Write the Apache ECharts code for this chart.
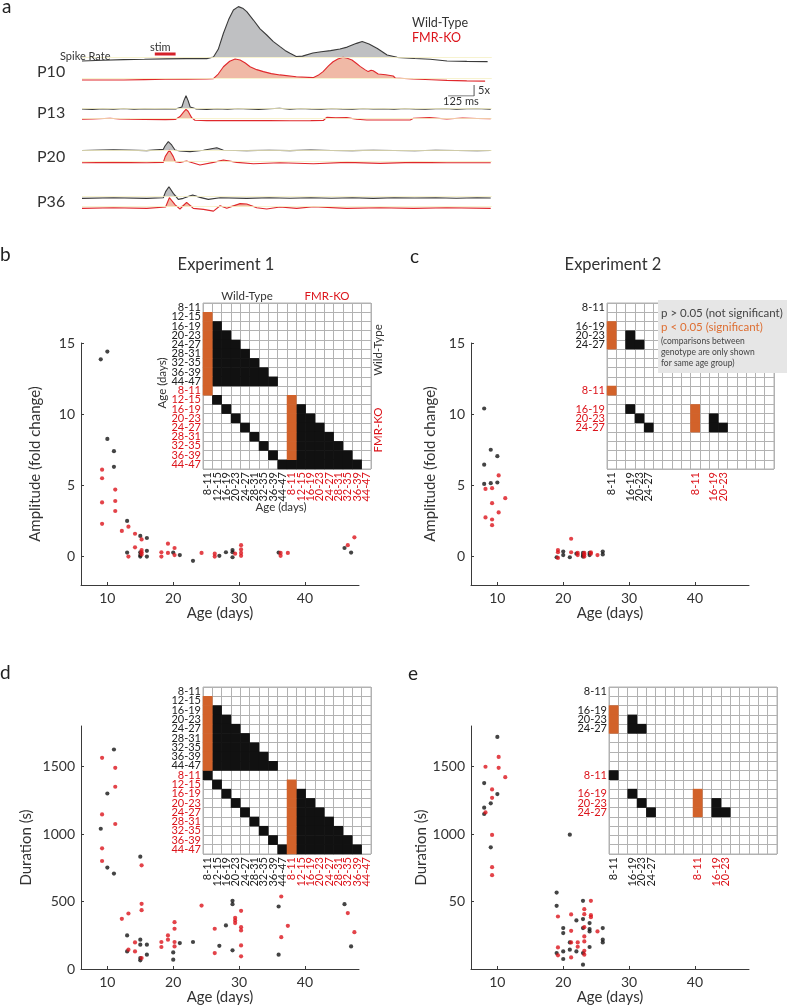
<!DOCTYPE html>
<html><head><meta charset="utf-8">
<script src="https://cdn.jsdelivr.net/npm/echarts@6/dist/echarts.min.js"></script>
<style>html,body{margin:0;padding:0;background:#fff}#c{width:787px;height:1007px}</style>
</head><body><div id="c"></div>
<script>
// ---------- Panel a: spike-rate traces, [time ms, fold change relative to baseline] ----------
const traceP10WT = [[0,-1.8],[100,-1.5],[200,-1.2],[300,-1.05],[400,-0.85],[500,-0.75],[600,-0.75],[632,0],[655,3.5],[680,10.8],[705,17],[728,21.4],[752,22.9],[775,22],[792,20.6],[824,16.8],[856,12.8],[888,10],[920,7],[952,4.7],[976,3],[1000,1.7],[1030,0.2],[1060,0.4],[1110,1.8],[1150,2.4],[1195,2.9],[1240,3.6],[1275,4.5],[1320,6.2],[1347,7.0],[1380,5.9],[1420,3.9],[1467,0.9],[1515,-0.15],[1600,-0.7],[1674,-1.05],[1755,-1.8],[1850,-2.0],[1950,-2.1]];
const traceP10KO = [[0,-0.9],[100,-0.9],[200,-0.9],[300,-0.75],[400,-0.6],[500,-0.5],[600,-0.45],[632,-0.3],[655,1.8],[680,5.1],[710,7.6],[736,8.6],[760,8.2],[785,6.8],[808,5.1],[840,3.8],[872,2.9],[910,2.0],[952,1.4],[1030,0.6],[1111,0.15],[1135,1.2],[1159,2.9],[1185,5.5],[1207,7.4],[1230,8.6],[1255,9.4],[1275,9.0],[1298,8.2],[1320,6.6],[1337,5.3],[1360,3.8],[1376,2.9],[1390,3.5],[1400,3.3],[1424,1.8],[1460,1.5],[1496,0.9],[1506,0],[1592,-0.45],[1680,-0.8],[1755,-1.1],[1850,-1.3],[1938,-1.4]];
const traceP13WT = [[0,-0.3],[50,-0.5],[100,-0.2],[150,-0.4],[200,-0.1],[250,-0.4],[300,-0.2],[350,-0.3],[400,-0.2],[450,-0.3],[480,0.6],[490,3.5],[500,5.7],[510,3.5],[520,0.6],[550,-0.3],[600,-0.5],[650,-0.2],[700,-0.4],[750,-0.1],[800,-0.3],[850,-0.5],[900,-0.2],[950,0],[1000,-0.4],[1050,-0.1],[1100,-0.3],[1150,-0.4],[1200,-0.1],[1250,-0.3],[1300,-0.4],[1350,-0.1],[1400,-0.3],[1450,-0.2],[1500,-0.4],[1550,-0.1],[1600,-0.3],[1650,-0.4],[1700,-0.2],[1750,-0.1],[1800,-0.4],[1850,-0.2],[1900,-0.1],[1965,-0.4]];
const traceP13KO = [[0,-0.45],[50,-0.3],[135,0],[180,-0.3],[231,-0.45],[300,-0.55],[400,-0.6],[450,-0.5],[471,0.8],[490,3],[500,4.1],[510,3.2],[527,0.3],[543,-0.9],[600,-1.05],[700,-1.05],[800,-1.05],[900,-1.05],[1000,-1.1],[1100,-1.05],[1160,-1.0],[1177,0.45],[1220,0.2],[1273,0.3],[1321,-0.45],[1369,-0.75],[1450,-0.75],[1578,-0.75],[1594,0],[1670,0.3],[1754,-0.3],[1830,0.15],[1900,-0.1],[1965,-0.15]];
const traceP20WT = [[0,-0.2],[151,0.1],[311,-0.3],[391,0.3],[399,1.8],[415,3.8],[431,2.3],[447,0],[471,-0.45],[519,-0.75],[584,-0.1],[648,1.05],[680,-0.1],[792,-0.3],[900,-0.1],[1000,-0.3],[1100,0],[1200,-0.2],[1300,-0.3],[1400,-0.1],[1500,-0.2],[1600,-0.35],[1700,-0.1],[1800,-0.2],[1900,-0.3],[1965,-0.2]];
const traceP20KO = [[0,-0.45],[151,-0.3],[311,-0.45],[391,-0.3],[400,2.3],[420,5.3],[439,2.3],[449,0],[471,-0.3],[503,0.3],[567,-1.5],[632,-0.3],[680,0.75],[744,-0.3],[824,-0.9],[952,-0.45],[1113,-0.9],[1273,-0.3],[1433,-0.75],[1594,-0.3],[1754,-0.45],[1965,-0.45]];
const traceP36WT = [[0,-0.75],[151,-0.45],[311,-0.75],[391,-0.45],[402,2.3],[418,4.5],[439,1.5],[463,-1.2],[487,-0.75],[532,0.75],[567,-0.3],[607,-1.2],[664,-0.45],[792,-0.75],[900,-0.5],[1000,-0.7],[1100,-0.45],[1200,-0.7],[1300,-0.5],[1400,-0.75],[1500,-0.5],[1600,-0.6],[1700,-0.45],[1800,-0.7],[1900,-0.5],[1965,-0.6]];
const traceP36KO = [[0,-0.75],[151,-0.45],[311,-0.75],[402,-0.15],[420,4.1],[449,0.75],[471,-1.05],[503,2.0],[535,-0.75],[584,-1.2],[632,-2.0],[664,0.45],[696,-0.75],[760,1.4],[792,1.2],[840,-0.45],[888,-1.05],[952,-0.15],[1032,-0.75],[1113,0],[1273,-0.75],[1433,-0.45],[1594,-0.75],[1754,-0.45],[1965,-0.75]];
const stimWindowMs = [350, 450];
const scaleBarMs = 125, scaleBarFold = 5;
const traceAges = ['P10','P13','P20','P36'];

// ---------- Panels b-e: scatter [age days, value] ----------
const exp1AmpWT = [[9,13.85],[10,14.4],[10,8.26],[11,7.4],[11,6.3],[13,2.5],[13,0.28],[15,1.45],[15,0.3],[15,0.1],[15,0],[16,1.3],[16,0.4],[16,0],[20,0.28],[21,0.1],[23,-0.3],[27,0.05],[28,0.3],[29,0.45],[29,0.3],[29,-0.05],[36,0.28],[46,0.6],[47,0.28]];
const exp1AmpKO = [[9.2,6.1],[9.2,5.5],[9.2,3.8],[9.2,2.3],[11.2,4.7],[11.2,3.9],[11.2,3.2],[12.2,1.8],[13.2,2.1],[13.2,0],[14.2,1.6],[14.2,0.65],[15.2,1.2],[15.2,0.45],[15.2,0.3],[15.2,0.15],[18.2,0.3],[18.2,0],[19.2,0.9],[19.2,0.25],[20.2,0.6],[20.2,0.1],[24.3,0.25],[26.3,0.2],[26.3,0],[29.4,0.2],[30.3,0.8],[30.3,0.5],[30.3,0.25],[30.3,0.05],[36.3,0.25],[36.3,0.05],[37.4,0.25],[46.5,0.8],[47.5,1.35]];
const exp2AmpWT = [[8,10.4],[8,6.45],[8,5.1],[9,7.5],[9,5.15],[10,7.05],[10,5.2],[19,-0.05],[20,0.35],[20,0.1],[21,-0.05],[22,0.2],[23,0.25],[23,0],[23,0.1],[24,0.1],[24,0.25],[26,0.35],[26,0.15]];
const exp2AmpKO = [[8.2,4.75],[8.2,2.75],[9.2,4.8],[9.2,3.75],[9.2,2.6],[9.2,2.2],[10.2,5.7],[10.2,3.1],[11.2,4.1],[19.2,0.45],[19.2,0.3],[19.2,-0.1],[21.2,1.25],[21.2,0.3],[22.2,0.1],[22.2,0.25],[23.2,0.25],[23.2,0],[23.2,0.15],[24.2,0.3],[24.2,0.2],[25.2,0.1]];
const exp1DurWT = [[11,1626],[10,1300],[9,1039],[10,751],[11,707],[15,832],[13,249],[13,130],[15,217],[15,180],[15,81],[15,64],[16,180],[16,106],[20,123],[20,69],[21,192],[23,200],[27,172],[28,323],[29,505],[29,480],[29,138],[36,463],[36,106],[46,480],[47,167]];
const exp1DurKO = [[9.2,1564],[9.2,1145],[9.2,894],[9.2,800],[11.2,1490],[11.2,1350],[11.2,1074],[15.2,768],[15.2,483],[15.2,436],[15.2,81],[12.2,372],[13.2,411],[13.2,143],[14.2,197],[14.2,130],[18.2,200],[18.2,163],[19.2,249],[19.2,217],[20.2,347],[20.2,298],[20.2,200],[20.2,167],[24.3,470],[26.3,298],[26.3,118],[29.4,379],[29.4,360],[29.4,340],[30.3,431],[30.3,310],[30.3,286],[30.3,175],[30.3,94],[36.4,537],[36.4,236],[37.4,320],[46.5,414],[47.5,273]];
const exp2DurWT = [[10,1719],[8,1377],[10,1296],[9,1227],[8,1195],[8,1148],[9,901],[21,995],[19,566],[19,468],[20,303],[20,266],[21,197],[22,360],[23,505],[23,370],[23,303],[24,340],[24,296],[24,278],[26,303],[26,217],[26,197],[19,118],[20,130],[20,74],[21,143],[22,130],[23,118],[23,32],[24,163]];
const exp2DurKO = [[8.2,1498],[8.2,1160],[9.2,1330],[9.2,1268],[9.2,993],[9.2,754],[9.2,695],[10.2,1571],[10.2,1490],[11.2,1421],[19.2,389],[19.2,160],[19.2,101],[21.2,404],[21.2,283],[21.2,197],[21.2,86],[22.2,197],[22.2,165],[23.2,443],[23.2,406],[23.2,310],[23.2,241],[23.2,204],[23.2,135],[23.2,106],[24.2,505],[24.2,399],[24.2,384],[25.2,278]];

// tick labels
const ageTicks = [10,20,30,40];
const ampTicks = [0,5,10,15];
const durTicksD = [0,500,1000,1500];
const durTickLabelsD = ['0','500','1000','1500'];
const durTicksE = [500,1000,1500];
const durTickLabelsE = ['50','1000','1500'];

// ---------- Inset significance matrices: '.' empty, 'X' black cell, 'O' orange cell ----------
const ageGroups = ['8-11','12-15','16-19','20-23','24-27','28-31','32-35','36-39','44-47'];
const exp2RowGroups = ['8-11','','16-19','20-23','24-27','','','',''];
const exp2ColGroupsWT = ['8-11','','16-19','20-23','24-27','','','',''];
const exp2ColGroupsKO = ['8-11','','16-19','20-23','','','','',''];
const sigExp1Amp = [
'..................','O.................','OX................','OXX...............','OXXX..............','OXXXX.............','OXXXXX............','OXXXXXX...........','OXXXXXXX..........',
'O.................','.X.......O........','..X......OX.......','...X.....OXX......','....X....OXXX.....','.....X...OXXXX....','......X..OXXXXX...','.......X.OXXXXXX..','........XXXXXXXXX.'];
const sigExp1Dur = [
'..................','O.................','OX................','OXX...............','OXXX..............','OXXXX.............','OXXXXX............','OXXXXXX...........','OXXXXXXX..........',
'X.................','.X.......O........','..X......OX.......','...X.....OXX......','....X....OXXX.....','.....X...OXXXX....','......X..OXXXXX...','.......X.OXXXXXX..','........XOXXXXXXX.'];
const sigExp2Amp = [
'..................','..................','O.................','O.X...............','O.XX..............','..................','..................','..................','..................',
'O.................','..................','..X......O........','...X.....O.X......','....X....O.XX.....','..................','..................','..................','..................'];
const sigExp2Dur = [
'..................','..................','O.................','O.X...............','O.XX..............','..................','..................','..................','..................',
'X.................','..................','..X......O........','...X.....O.X......','....X....O.XX.....','..................','..................','..................','..................'];

// ---------- styling ----------
const FONT = 'Lato, "Noto Sans", sans-serif';
const RED = '#dc141b', ORANGE = '#d2622a';
const WT_LINE = '#3a3a3a', KO_LINE = '#e0282c', WT_FILL = '#bfc0c2', KO_FILL = '#f0b9a6', BASE = '#f5f0c4';
const PX_PER_MS = 26/125, PX_PER_UNIT = 11/5;
const T_MAX = 1970;

const grid = [], xAxis = [], yAxis = [], series = [], graphic = [];

// trace grids
const traceDefs = [
  {data: traceP10WT, base: 57,    min: -3, max: 24, wt: true},
  {data: traceP10KO, base: 78,    min: -3, max: 10, wt: false},
  {data: traceP13WT, base: 108.3, min: -2, max: 7,  wt: true},
  {data: traceP13KO, base: 118.3, min: -2, max: 5,  wt: false},
  {data: traceP20WT, base: 150,   min: -2, max: 5,  wt: true},
  {data: traceP20KO, base: 161.7, min: -2, max: 6,  wt: false},
  {data: traceP36WT, base: 196.7, min: -2, max: 5,  wt: true},
  {data: traceP36KO, base: 206.7, min: -3, max: 5,  wt: false}
];
traceDefs.forEach(function (d, i) {
  grid.push({left: 82, width: T_MAX * PX_PER_MS, top: d.base - d.max * PX_PER_UNIT, height: (d.max - d.min) * PX_PER_UNIT});
  xAxis.push({gridIndex: i, type: 'value', min: 0, max: T_MAX, show: false});
  yAxis.push({gridIndex: i, type: 'value', min: d.min, max: d.max, show: false});
  series.push({type: 'line', xAxisIndex: i, yAxisIndex: i, data: d.data.map(p => [p[0], Math.max(p[1], 0)]),
    showSymbol: false, silent: true, lineStyle: {width: 0}, areaStyle: {color: d.wt ? WT_FILL : KO_FILL, opacity: 1, origin: 0},
    markLine: {silent: true, symbol: 'none', label: {show: false}, lineStyle: {color: BASE, width: 0.8, type: 'solid'}, data: [{yAxis: 0}]}});
  series.push({type: 'line', xAxisIndex: i, yAxisIndex: i, data: d.data, showSymbol: false, silent: true,
    lineStyle: {color: d.wt ? WT_LINE : KO_LINE, width: 1.1}});
});
// stimulus bar in P10 WT grid
series.push({type: 'line', xAxisIndex: 0, yAxisIndex: 0, data: stimWindowMs.map(t => [t, 1.4]), showSymbol: false, silent: true,
  lineStyle: {color: '#d5222a', width: 3, cap: 'butt'}});
// scale bar grid
let gi = grid.length;
grid.push({left: 82, width: T_MAX * PX_PER_MS, top: 85, height: scaleBarFold * PX_PER_UNIT});
xAxis.push({gridIndex: gi, type: 'value', min: 0, max: T_MAX, show: false});
yAxis.push({gridIndex: gi, type: 'value', min: 0, max: scaleBarFold, show: false});
series.push({type: 'line', xAxisIndex: gi, yAxisIndex: gi, showSymbol: false, silent: true,
  data: [[1885 - scaleBarMs, 0], [1885, 0], [1885, scaleBarFold]], lineStyle: {color: '#555', width: 1}});

// scatter grids
function scatterPanel(opt) {
  const i = grid.length;
  grid.push({left: opt.left, top: opt.top, width: 278, height: opt.height});
  xAxis.push({gridIndex: i, type: 'value', min: 6, max: 48.2,
    axisLine: {show: true, onZero: false, lineStyle: {color: '#3a3a3a', width: 1}},
    axisTick: {show: true, inside: true, length: 3, customValues: ageTicks, lineStyle: {color: '#3a3a3a'}},
    axisLabel: {customValues: ageTicks, fontSize: 14, color: '#333', margin: 6, fontFamily: FONT},
    splitLine: {show: false}, name: 'Age (days)', nameLocation: 'middle', nameGap: 21,
    nameTextStyle: {fontSize: 15, color: '#333', fontFamily: FONT, verticalAlign: 'top'}});
  yAxis.push({gridIndex: i, type: 'value', min: opt.ymin, max: opt.ymax,
    axisLine: {show: true, onZero: false, lineStyle: {color: '#3a3a3a', width: 1}},
    axisTick: {show: true, inside: true, length: 3, customValues: opt.yticks, lineStyle: {color: '#3a3a3a'}},
    axisLabel: {customValues: opt.yticks, fontSize: 14, color: '#333', margin: 6, fontFamily: FONT,
      formatter: function (v) { const k = opt.yticks.indexOf(v); return k >= 0 ? opt.ylabels[k] : ''; }},
    splitLine: {show: false}, name: opt.yname, nameLocation: 'middle', nameGap: opt.ynameGap,
    nameTextStyle: {fontSize: 15, color: '#333', fontFamily: FONT}});
  series.push({type: 'scatter', xAxisIndex: i, yAxisIndex: i, data: opt.wt, symbolSize: 4.2, silent: true, itemStyle: {color: '#151515'}});
  series.push({type: 'scatter', xAxisIndex: i, yAxisIndex: i, data: opt.ko, symbolSize: 4.2, silent: true, itemStyle: {color: RED}});
}
const ampLabels = ampTicks.map(String);
scatterPanel({left: 81, top: 343, height: 242, ymin: -2, ymax: 15, yticks: ampTicks, ylabels: ampLabels, yname: 'Amplitude (fold change)', ynameGap: 38, wt: exp1AmpWT, ko: exp1AmpKO});
scatterPanel({left: 471, top: 343, height: 242, ymin: -2, ymax: 15, yticks: ampTicks, ylabels: ampLabels, yname: 'Amplitude (fold change)', ynameGap: 33, wt: exp2AmpWT, ko: exp2AmpKO});
scatterPanel({left: 81, top: 726, height: 243, ymin: 0, ymax: 1800, yticks: durTicksD, ylabels: durTickLabelsD, yname: 'Duration (s)', ynameGap: 47, wt: exp1DurWT, ko: exp1DurKO});
scatterPanel({left: 471, top: 726, height: 243, ymin: 0, ymax: 1800, yticks: durTicksE, ylabels: durTickLabelsE, yname: 'Duration (s)', ynameGap: 42, wt: exp2DurWT, ko: exp2DurKO});

// matrix grids
function labelFmt(v, idx) { if (!v) return ''; return idx >= 9 ? '{r|' + v + '}' : '{k|' + v + '}'; }
const richLab = {k: {color: '#222', fontSize: 11, fontFamily: FONT}, r: {color: RED, fontSize: 11, fontFamily: FONT}};
function matrixPanel(opt) {
  const i = grid.length;
  grid.push({left: opt.left, top: opt.top, width: opt.w, height: opt.h, show: true, borderColor: '#b2b2b2', borderWidth: 1, backgroundColor: '#fff'});
  xAxis.push({gridIndex: i, type: 'category', data: opt.cols, position: 'bottom', boundaryGap: true,
    axisLine: {show: false}, axisTick: {show: false},
    axisLabel: {interval: 0, rotate: 90, margin: 3, formatter: labelFmt, rich: richLab},
    splitLine: {show: true, interval: 0, lineStyle: {color: '#b2b2b2', width: 1}}});
  yAxis.push({gridIndex: i, type: 'category', data: opt.rows, inverse: true, boundaryGap: true,
    axisLine: {show: false}, axisTick: {show: false},
    axisLabel: {interval: 0, margin: 2, formatter: labelFmt, rich: richLab, lineHeight: 10},
    splitLine: {show: true, interval: 0, lineStyle: {color: '#b2b2b2', width: 1}}});
  const blk = [], org = [];
  opt.sig.forEach(function (row, r) {
    for (let c = 0; c < row.length; c++) {
      if (row[c] === 'X') blk.push([c, r, 1]);
      else if (row[c] === 'O') org.push([c, r, 1]);
    }
  });
  series.push({type: 'heatmap', xAxisIndex: i, yAxisIndex: i, data: blk, silent: true, itemStyle: {color: '#111'}, emphasis: {disabled: true}});
  series.push({type: 'heatmap', xAxisIndex: i, yAxisIndex: i, data: org, silent: true, itemStyle: {color: ORANGE}, emphasis: {disabled: true}});
}
const fullLabels = ageGroups.concat(ageGroups);
matrixPanel({left: 203, top: 303, w: 168, h: 166, rows: fullLabels, cols: fullLabels, sig: sigExp1Amp});
matrixPanel({left: 607, top: 303, w: 167, h: 166, rows: exp2RowGroups.concat(exp2RowGroups), cols: exp2ColGroupsWT.concat(exp2ColGroupsKO), sig: sigExp2Amp});
matrixPanel({left: 203, top: 687, w: 168, h: 167, rows: fullLabels, cols: fullLabels, sig: sigExp1Dur});
matrixPanel({left: 609, top: 687, w: 168, h: 167, rows: exp2RowGroups.concat(exp2RowGroups), cols: exp2ColGroupsWT.concat(exp2ColGroupsKO), sig: sigExp2Dur});

// ---------- text annotations ----------
function txt(s, x, y, size, color, align, rot) {
  const st = {text: s, fill: color || '#222', font: 'normal ' + size + 'px ' + FONT,
    align: align || 'left', verticalAlign: 'middle', textAlign: align || 'left', textVerticalAlign: 'middle'};
  graphic.push({type: 'text', x: x, y: y, rotation: rot || 0, z: 100, silent: true, style: st});
}
txt('a', 2, 7, 19, '#222');
txt('Spike Rate', 60, 56, 11, '#333');
txt('stim', 150, 47, 11, '#333');
const traceLabelY = [72, 113, 157, 202];
traceAges.forEach((p, k) => txt(p, 37, traceLabelY[k], 16, '#333'));
txt('Wild-Type', 412, 23, 12.5, '#333');
txt('FMR-KO', 412, 38, 12.5, RED);
txt('5x', 478, 90, 11, '#333');
txt('125 ms', 443, 101, 11, '#333');

txt('b', 0, 255, 19, '#222');
txt('Experiment 1', 226, 265, 16.5, '#333', 'center');
txt('Wild-Type', 247, 296, 11.5, '#333', 'center');
txt('FMR-KO', 327, 296, 11.5, RED, 'center');
txt('Wild-Type', 378, 350, 11.5, '#333', 'center', Math.PI / 2);
txt('FMR-KO', 378, 430, 11.5, RED, 'center', Math.PI / 2);
txt('Age (days)', 162, 383, 11.5, '#333', 'center', Math.PI / 2);
txt('Age (days)', 281, 507, 11.5, '#333', 'center');

txt('c', 410, 257, 19, '#222');
txt('Experiment 2', 613, 265, 16.5, '#333', 'center');
graphic.push({type: 'rect', shape: {x: 658, y: 300, width: 130, height: 73}, z: 90, silent: true, style: {fill: '#e6e6e6'}});
txt('p > 0.05 (not significant)', 661, 313, 11.5, '#444');
txt('p < 0.05 (significant)', 661, 327, 11.5, '#de6f33');
txt('(comparisons between', 661, 341, 8.5, '#444');
txt('genotype are only shown', 661, 352, 8.5, '#444');
txt('for same age group)', 661, 363, 8.5, '#444');

txt('d', 0, 673, 19, '#222');
txt('e', 408, 674, 19, '#222');

const chart = echarts.init(document.getElementById('c'), null, {renderer: 'canvas'});
chart.setOption({animation: false, backgroundColor: '#fff', grid: grid, xAxis: xAxis, yAxis: yAxis, series: series, graphic: graphic});
</script></body></html>
